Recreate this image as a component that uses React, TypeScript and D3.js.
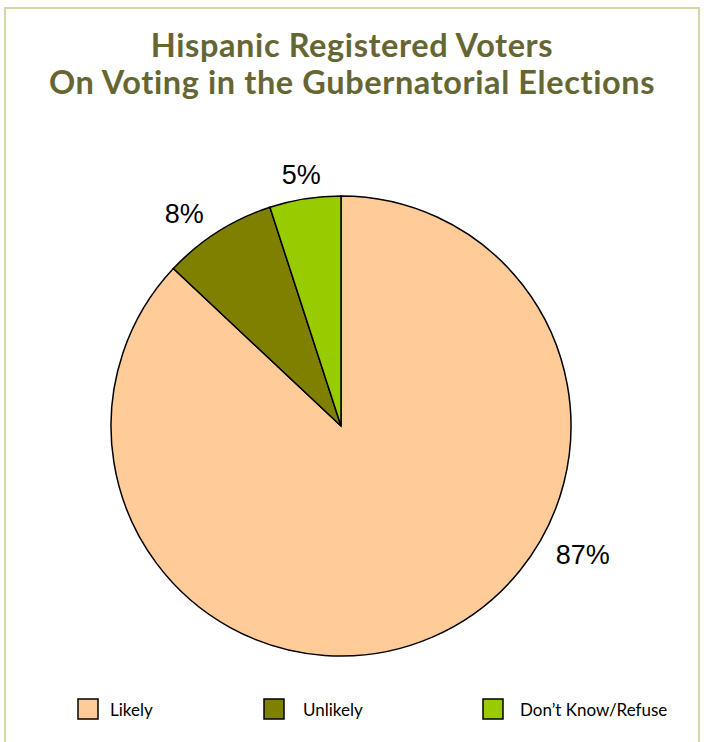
import React from "react";
import * as d3 from "d3";

const categories = ["Likely", "Unlikely", "Don\u2019t Know/Refuse"];
const values = [87, 8, 5];
const colors = ["#FFCC99", "#808000", "#99CC00"];
const titleLines = ["Hispanic Registered Voters", "On Voting in the Gubernatorial Elections"];

export default function App() {
  const W = 704, H = 742;
  const cx = 341, cy = 426, r = 230;
  const pie = d3.pie<number>().sort(null).value((d) => d);
  const arcs = pie(values);
  const arc = d3.arc<d3.PieArcDatum<number>>().innerRadius(0).outerRadius(r);
  const labelPos = (a: d3.PieArcDatum<number>, i: number) => {
    const span = a.endAngle - a.startAngle;
    const mid = (a.startAngle + a.endAngle) / 2;
    // Excel "best fit"-like label placement
    let ang = mid, rr = r + 24;
    if (span > Math.PI) { ang = a.startAngle + span * 0.377; rr = r + 44; }
    else if (i === 1) { ang = mid - 0.07; rr = r + 34; }
    return [Math.sin(ang) * rr, -Math.cos(ang) * rr];
  };
  const legendX = [78, 264, 483];
  const legendTextX = [110, 303, 520];
  return (
    <svg width={W} height={H} style={{ position: "absolute", left: 0, top: 0 }}>
      <rect x={0} y={0} width={W} height={H} fill="#fff" />
      <rect x={5} y={8} width={694} height={760} fill="#fff" stroke="#D6D6A8" strokeWidth={2} />
      {titleLines.map((t, i) => (
        <text key={i} x={352} y={57 + i * 37} textAnchor="middle" fontFamily="Lato" fontWeight="bold"
          fontSize={32.5} letterSpacing={0.6} fill="#666633">{t}</text>
      ))}
      <g transform={`translate(${cx},${cy})`}>
        {arcs.map((a, i) => (
          <path key={i} d={arc(a) as string} fill={colors[i]} stroke="#000" strokeWidth={1.5} />
        ))}
        {arcs.map((a, i) => {
          const [x, y] = labelPos(a, i);
          return (
            <text key={i} x={x} y={y} textAnchor="middle" dominantBaseline="central"
              fontFamily="Liberation Sans, Arial" fontSize={27} fill="#000">{values[i]}%</text>
          );
        })}
      </g>
      {categories.map((c, i) => (
        <g key={i}>
          <rect x={legendX[i]} y={699} width={20} height={20} fill={colors[i]} stroke="#000" strokeWidth={1.5} />
          <text x={legendTextX[i]} y={716} fontFamily="Lato" fontSize={17} fill="#000">{c}</text>
        </g>
      ))}
    </svg>
  );
}
